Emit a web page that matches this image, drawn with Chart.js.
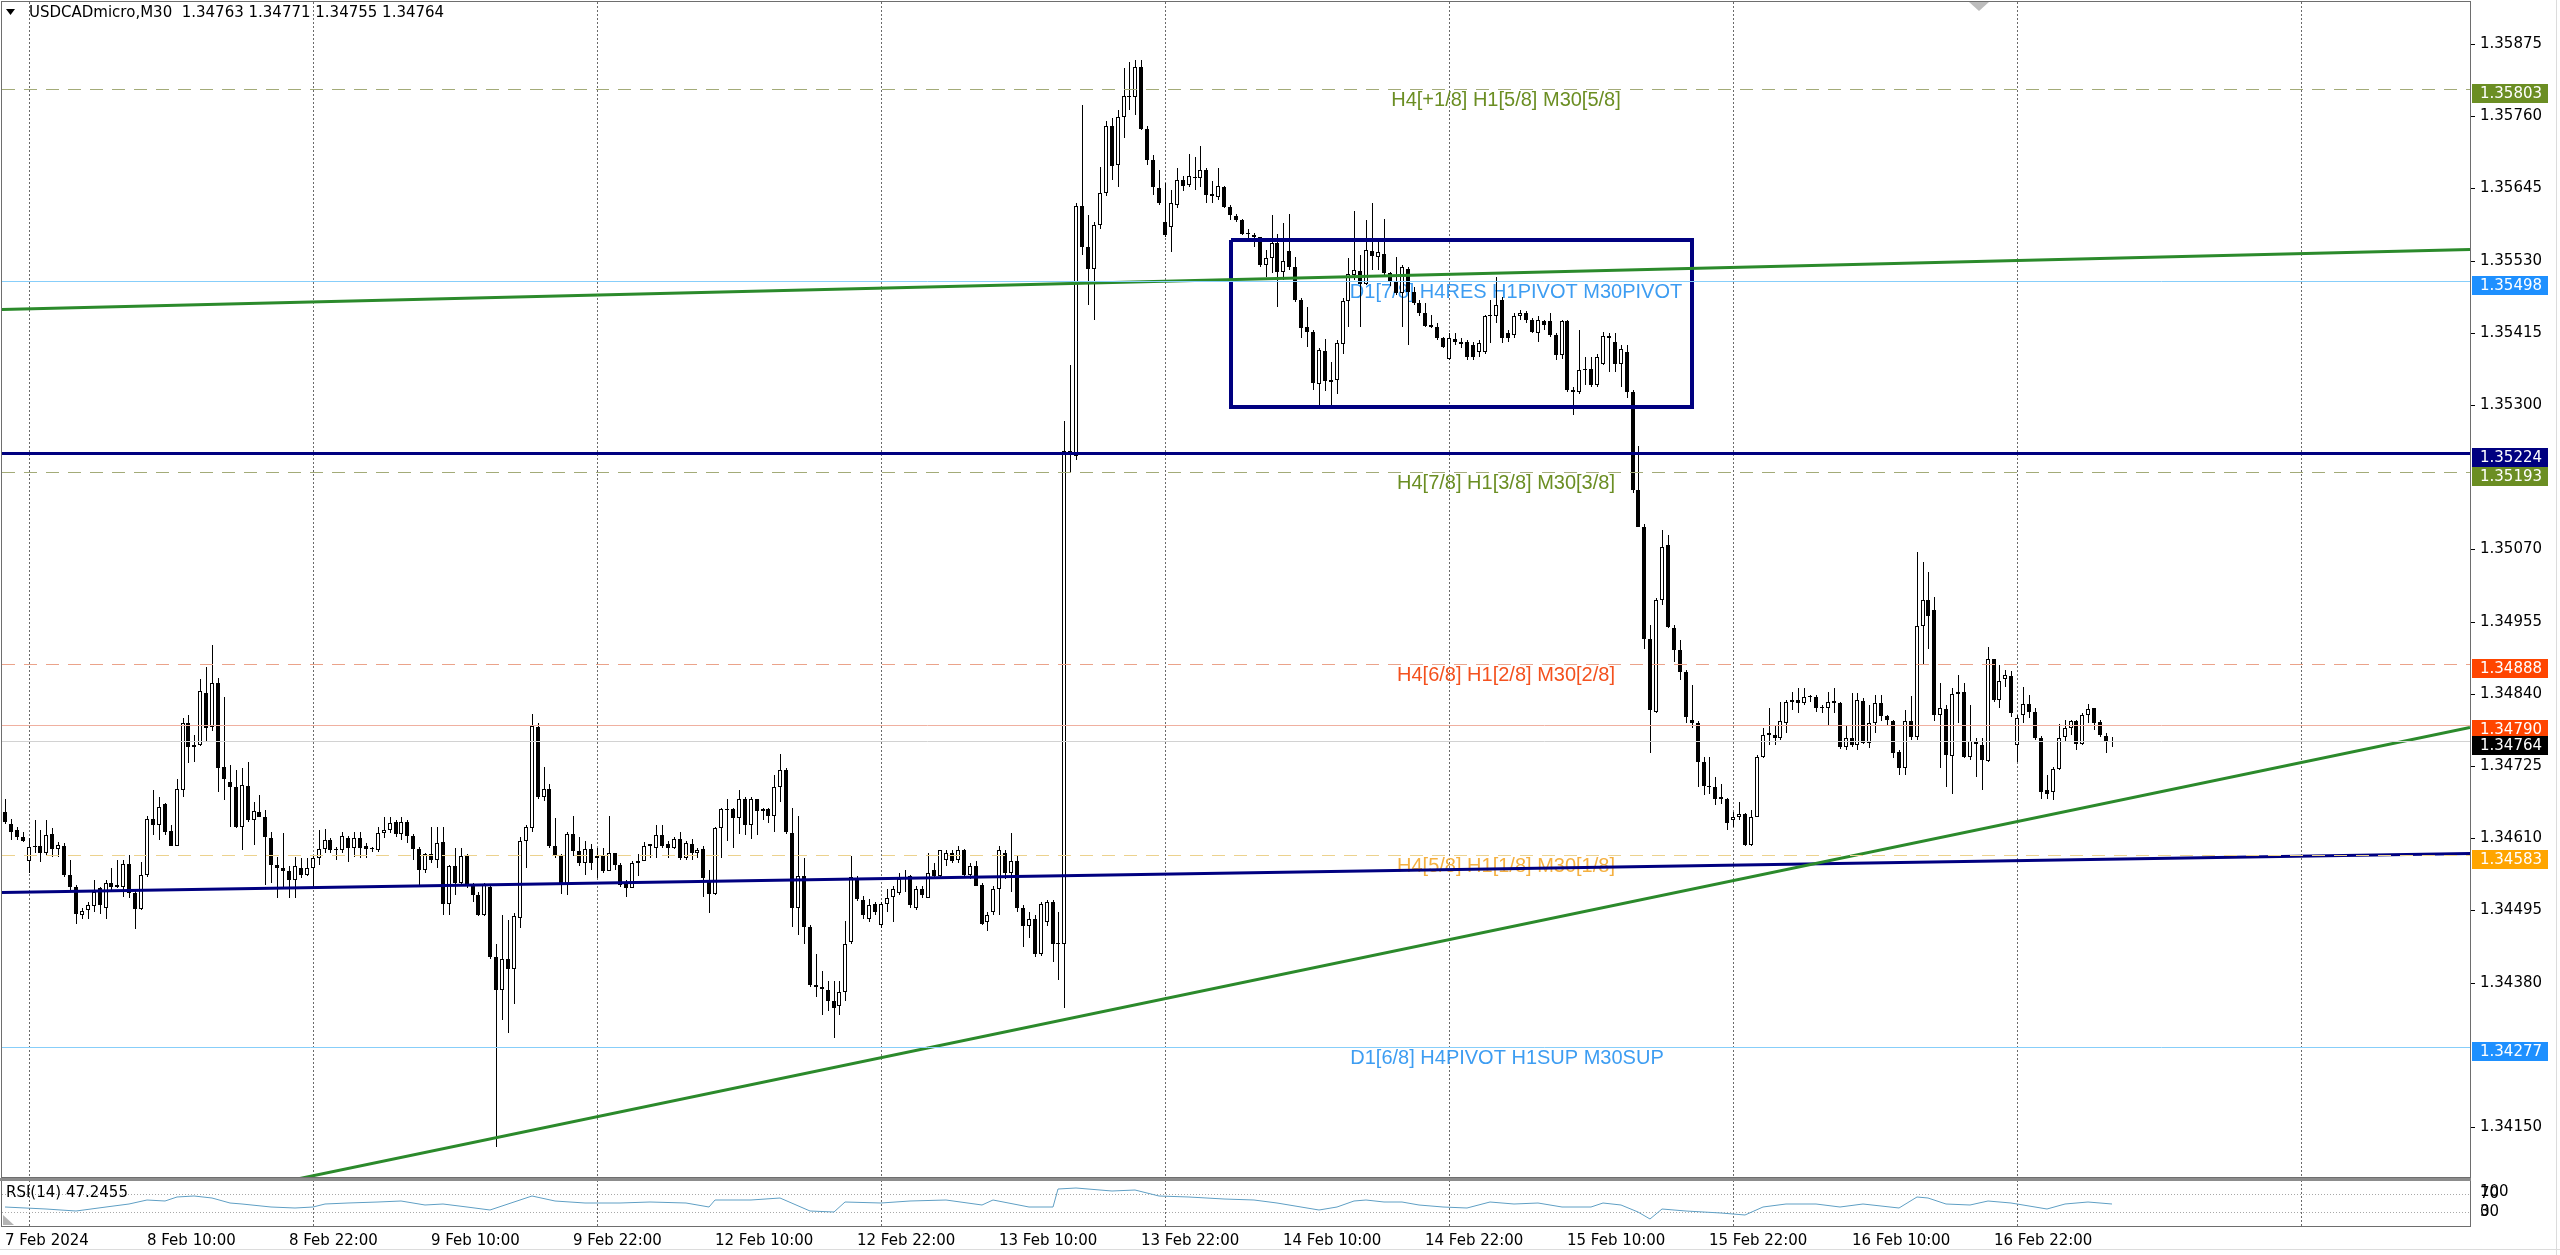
<!DOCTYPE html>
<html>
<head>
<meta charset="utf-8">
<title>USDCADmicro,M30</title>
<script src="https://cdn.jsdelivr.net/npm/chart.js@4.4.1/dist/chart.umd.min.js"></script>
<style>
  html, body { margin: 0; padding: 0; background: #fff; }
  #wrap { position: relative; width: 2560px; height: 1255px; overflow: hidden; background: #fff; }
  canvas { position: absolute; left: 0; }
  #main { top: 0; }
  #rsi { top: 1178px; }
</style>
</head>
<body>
<div id="wrap">
  <canvas id="main" width="2560" height="1178"></canvas>
  <canvas id="rsi" width="2560" height="77"></canvas>
</div>
<script>
// OHLC values are in points (0.00001) above 1.34000, one entry per M30 bar
const BASE = 1.34;
const PT = 0.00001;

const barOpen = [
  652,633,623,612,573,596,597,586,616,592,
  597,551,533,488,495,502,530,498,539,533,
  533,569,522,497,551,640,631,664,622,598,
  687,794,755,758,841,787,857,724,700,692,
  628,693,639,652,644,611,568,562,557,543,
  562,551,562,579,592,607,591,591,611,594,
  610,597,592,591,618,623,635,617,636,613,
  592,559,584,576,604,505,565,538,582,535,
  519,488,532,420,368,417,401,483,606,626,
  787,675,689,598,582,535,617,590,571,593,
  582,582,557,586,568,538,531,571,573,597,
  595,615,600,595,609,579,601,586,593,543,
  521,626,656,656,642,672,631,672,653,656,
  645,691,719,618,499,549,469,376,373,368,
  351,343,365,445,546,511,482,505,472,505,
  516,522,545,550,498,529,515,560,550,575,
  586,575,591,552,565,536,477,493,529,586,
  555,573,498,470,482,425,477,508,443,441,
  1226,1218,1617,1552,1517,1586,1638,1745,1682,1758,
  1792,1790,1838,1739,1690,1645,1592,1584,1619,1659,
  1650,1662,1662,1675,1636,1632,1648,1616,1601,1595,
  1573,1570,1567,1523,1534,1558,1512,1546,1520,1468,
  1424,1417,1334,1386,1337,1340,1397,1465,1507,1514,
  1493,1546,1535,1540,1510,1496,1479,1516,1480,1462,
  1446,1427,1425,1406,1374,1405,1401,1401,1396,1385,
  1385,1441,1441,1467,1414,1411,1441,1446,1435,1414,
  1433,1433,1411,1380,1433,1324,1321,1356,1358,1332,
  1366,1410,1401,1366,1385,1321,1165,1106,928,811,
  989,1077,944,910,874,799,793,732,693,691,
  672,672,639,644,649,599,644,740,774,774,
  769,793,827,830,826,835,835,817,817,829,
  825,756,769,758,829,761,793,826,804,797,
  748,721,796,771,948,990,974,806,815,741,
  840,843,739,764,758,733,896,830,863,868,
  758,806,824,811,769,686,684,720,771,786,
  797,760,806,817,795,772,763
];
const barHigh = [
  673,641,628,620,610,639,623,639,626,604,
  602,575,535,498,509,544,532,543,562,575,
  576,583,527,572,645,686,676,666,631,705,
  801,806,774,863,883,918,865,835,726,718,
  721,732,668,679,655,620,580,618,565,580,
  578,578,583,623,624,610,596,620,613,620,
  620,602,596,628,644,644,639,644,639,617,
  596,586,628,628,628,568,595,595,584,538,
  524,538,535,442,488,480,491,612,631,807,
  793,724,697,642,584,620,645,612,606,601,
  595,595,645,587,571,543,573,584,604,601,
  631,631,606,612,620,606,609,595,598,560,
  628,658,672,658,686,675,675,673,658,658,
  711,744,722,658,645,579,472,425,398,382,
  382,382,478,582,549,518,513,508,508,529,
  534,555,560,552,534,534,586,570,591,591,
  591,597,593,570,573,539,493,534,597,591,
  619,581,503,493,487,508,512,512,492,1275,
  1363,1622,1778,1602,1591,1679,1752,1757,1770,1836,
  1847,1850,1850,1744,1698,1674,1653,1642,1677,1664,
  1700,1695,1712,1677,1656,1677,1649,1619,1605,1597,
  1580,1574,1568,1547,1602,1573,1590,1605,1536,1471,
  1456,1419,1390,1405,1369,1403,1470,1534,1609,1539,
  1595,1622,1563,1597,1512,1536,1523,1520,1488,1467,
  1462,1443,1430,1409,1414,1414,1406,1403,1401,1403,
  1443,1467,1504,1472,1419,1446,1451,1449,1438,1441,
  1435,1446,1414,1435,1435,1329,1419,1377,1377,1382,
  1417,1414,1415,1396,1396,1324,1234,1111,950,992,
  1101,1093,950,926,878,854,796,740,740,708,
  697,674,652,668,650,655,742,785,817,788,
  827,830,843,849,849,838,838,822,843,849,
  827,790,841,841,833,822,838,838,806,798,
  750,814,836,1066,1050,1034,994,857,822,849,
  870,857,822,769,769,915,896,886,878,877,
  806,851,838,817,772,711,724,792,798,799,
  798,809,824,818,798,777,771
];
const barLow = [
  633,607,607,604,554,586,572,583,580,580,
  548,525,474,482,482,493,490,482,527,530,
  517,514,466,496,548,615,607,615,597,597,
  676,730,732,757,764,780,684,671,628,626,
  591,636,599,644,535,538,514,530,514,514,
  546,549,533,567,586,586,575,586,572,580,
  578,578,588,588,610,618,612,607,603,575,
  535,554,570,562,488,488,519,535,530,508,
  486,486,417,118,321,299,346,467,563,620,
  672,670,595,579,521,519,582,565,552,560,
  546,554,557,560,532,516,530,549,573,579,
  579,595,579,593,576,576,576,579,516,491,
  519,579,606,595,617,615,609,615,639,634,
  620,667,617,469,456,442,373,357,329,335,
  291,329,351,442,510,482,477,487,467,493,
  477,519,524,498,496,514,514,545,545,565,
  570,570,550,545,534,472,462,487,487,545,
  524,493,436,451,420,422,470,412,384,339,
  1192,1213,1539,1459,1436,1581,1633,1659,1648,1725,
  1770,1762,1738,1682,1634,1618,1567,1544,1613,1641,
  1648,1642,1648,1622,1621,1626,1613,1595,1592,1571,
  1560,1552,1520,1504,1510,1456,1499,1515,1464,1406,
  1393,1324,1300,1323,1300,1318,1382,1425,1499,1425,
  1491,1515,1515,1504,1489,1475,1425,1395,1459,1441,
  1425,1422,1403,1390,1372,1396,1390,1372,1372,1377,
  1382,1398,1430,1398,1401,1406,1435,1430,1414,1401,
  1419,1409,1372,1374,1321,1284,1318,1332,1329,1329,
  1364,1353,1353,1329,1311,1160,1106,911,745,809,
  981,944,891,862,793,785,692,679,681,663,
  665,623,628,639,597,597,643,737,758,758,
  766,777,814,809,822,827,811,809,788,809,
  752,750,756,750,760,753,777,796,788,737,
  711,711,766,766,888,912,796,721,692,681,
  793,737,734,708,687,732,827,817,851,803,
  732,793,801,766,673,673,671,719,764,774,
  751,758,793,782,771,745,755
];
const barClose = [
  636,620,612,606,596,597,586,615,592,599,
  551,533,489,494,503,525,503,538,533,536,
  569,522,497,551,641,631,660,620,598,688,
  793,755,758,845,786,857,721,704,692,628,
  694,639,654,644,612,567,563,557,543,565,
  552,563,579,592,607,591,591,613,594,610,
  594,592,592,618,623,634,617,636,613,592,
  559,584,576,602,505,565,538,582,535,519,
  488,535,420,368,417,401,486,606,628,788,
  675,689,598,582,535,617,590,571,593,571,
  579,557,587,568,535,530,571,573,598,600,
  615,598,594,609,579,602,586,591,546,521,
  626,656,655,642,672,631,672,653,656,645,
  691,719,620,498,549,469,376,373,369,351,
  340,365,442,548,513,488,503,493,505,515,
  529,545,548,503,529,519,555,550,591,586,
  573,591,552,565,534,474,487,529,591,555,
  573,498,470,482,425,505,508,441,441,1226,
  1222,1617,1552,1517,1586,1638,1745,1681,1759,1792,
  1790,1838,1739,1690,1648,1622,1571,1622,1659,1649,
  1665,1661,1675,1634,1633,1649,1616,1603,1595,1573,
  1572,1567,1523,1534,1558,1512,1530,1520,1468,1422,
  1417,1335,1388,1339,1340,1398,1465,1509,1515,1493,
  1547,1537,1544,1510,1498,1479,1519,1480,1462,1446,
  1426,1425,1406,1393,1406,1401,1397,1377,1377,1398,
  1441,1443,1459,1406,1406,1441,1446,1435,1417,1435,
  1427,1411,1380,1433,1324,1320,1356,1358,1332,1377,
  1410,1406,1366,1389,1321,1165,1106,928,814,989,
  1074,947,910,874,803,793,732,693,691,672,
  675,634,644,649,599,644,740,774,777,769,
  796,827,830,826,835,835,817,817,827,825,
  756,769,758,830,761,793,826,804,798,746,
  721,797,771,948,989,964,806,817,742,840,
  843,739,765,760,734,896,830,861,870,810,
  801,823,811,769,684,680,720,770,786,797,
  760,806,815,794,774,764,764
];

// time axis
const timeLabels = ['7 Feb 2024', '8 Feb 10:00', '8 Feb 22:00', '9 Feb 10:00', '9 Feb 22:00',
  '12 Feb 10:00', '12 Feb 22:00', '13 Feb 10:00', '13 Feb 22:00', '14 Feb 10:00',
  '14 Feb 22:00', '15 Feb 10:00', '15 Feb 22:00', '16 Feb 10:00', '16 Feb 22:00'];
const labelBars = [0, 24, 48, 72, 96, 120, 144, 168, 192, 216, 240, 264, 288, 312, 336];
const dayBars = [4, 52, 100, 148, 196, 244, 292, 340, 388];

// price axis
const priceTicks = [1.35875, 1.35760, 1.35645, 1.35530, 1.35415, 1.35300, 1.35070,
  1.34955, 1.34840, 1.34725, 1.34610, 1.34495, 1.34380, 1.34150];

// horizontal levels and their captions
const levelPrices = [1.35803, 1.35498, 1.35224, 1.35193, 1.34888, 1.34790, 1.34764, 1.34583, 1.34277];
const levelTexts = ['H4[+1/8] H1[5/8] M30[5/8]', 'D1[7/8] H4RES H1PIVOT M30PIVOT', '',
  'H4[7/8] H1[3/8] M30[3/8]', 'H4[6/8] H1[2/8] M30[2/8]', '', '',
  'H4[5/8] H1[1/8] M30[1/8]', 'D1[6/8] H4PIVOT H1SUP M30SUP'];

// drawn objects: [bar, price] end points
const trendUpper = [[-0.5, 1.35453], [416.5, 1.35549]];
const trendLower = [[40, 1.34050], [416.5, 1.34787]];
const trendNavy = [[-0.5, 1.34525], [416.5, 1.34587]];
const boxBars = [207.1, 285.1];
const boxPrices = [1.35297, 1.35563];

// RSI(14), read at a subset of bars
const rsiBars = [0, 7, 12, 17, 21, 24, 27, 29, 32, 35, 38, 40, 45, 49, 52, 54, 58, 63, 67, 71,
  74, 78, 82, 85, 89, 93, 98, 104, 109, 115, 119, 120, 126, 131, 136, 140, 142, 148, 153, 159,
  165, 167, 173, 177, 178, 181, 187, 191, 195, 200, 206, 211, 215, 219, 222, 225, 228, 230, 233, 236,
  239, 243, 247, 251, 255, 259, 263, 268, 270, 273, 276, 278, 280, 284, 290, 294, 297, 301, 306, 310,
  314, 320, 323, 325, 328, 332, 335, 339, 345, 348, 352, 356];
const rsiValues = [41, 37, 32, 41, 47, 57, 54, 64, 66, 61, 50, 48, 42, 39, 42, 48, 50, 52, 54, 45,
  48, 41, 35, 48, 66, 54, 50, 50, 53, 50, 41, 57, 57, 61, 32, 31, 52, 50, 54, 57,
  45, 56, 42, 42, 81, 83, 77, 79, 66, 64, 59, 56, 50, 41, 35, 41, 54, 57, 52, 52,
  45, 41, 39, 52, 48, 50, 41, 42, 50, 45, 30, 15, 37, 32, 28, 25, 41, 47, 48, 41,
  48, 39, 64, 61, 47, 45, 54, 50, 37, 48, 52, 47];
const rsiCaption = 'RSI(14) 47.2455';
const rsiLevels = [70, 30];

const chartTitle = 'USDCADmicro,M30  1.34763 1.34771 1.34755 1.34764';

// ---- look ----
const X_MIN = -0.5, X_MAX = 416.5;
const Y_MIN = 1.340703, Y_MAX = 1.359419;
const AXIS_W = 90;
const FONT = '"DejaVu Sans", Verdana, sans-serif';
const OLIVE = '#6b8e23', DODGER = '#1e90ff', NAVY = '#000080', ORED = '#ff4500', ORANGE = '#ffa500';
const levelStyle = [
  { line: '#a3ab78', width: 1, dash: [13, 9], tag: OLIVE, text: OLIVE },
  { line: '#87cefa', width: 1, dash: [], tag: DODGER, text: '#3d9df2' },
  { line: NAVY, width: 3, dash: [], tag: NAVY },
  { line: '#a3ab78', width: 1, dash: [13, 9], tag: OLIVE, text: OLIVE },
  { line: '#eba38a', width: 1, dash: [13, 9], tag: ORED, text: '#f4511e' },
  { line: '#f0b0a0', width: 1, dash: [], tag: ORED },
  { line: '#d2d2d2', width: 1, dash: [], tag: '#000' },
  { line: '#ecd28e', width: 1, dash: [13, 9], tag: ORANGE, text: '#f5b040' },
  { line: '#87cefa', width: 1, dash: [], tag: DODGER, text: '#3d9df2' }
];
const levelTextBar = [253.7, 255.3, null, 253.7, 253.7, null, null, 253.7, 253.8];

Chart.defaults.font.family = FONT;

const toPrice = v => +(BASE + v * PT).toFixed(5);
const idx = barOpen.map((o, i) => i);
const wicks = idx.map(i => ({ x: i, y: [toPrice(barLow[i]), toPrice(barHigh[i])] }));
const bulls = idx.filter(i => barClose[i] >= barOpen[i])
  .map(i => ({ x: i, y: [toPrice(barOpen[i]), toPrice(barClose[i])] }));
const bears = idx.filter(i => barClose[i] < barOpen[i])
  .map(i => ({ x: i, y: [toPrice(barOpen[i]), toPrice(barClose[i])] }));

// nudge: half-pixel shift so odd-width strokes land on whole pixels
const lineSet = (pts, color, width, dash) => ({
  type: 'line', data: pts.map(p => ({ x: p[0], y: p[1] })),
  borderColor: color, borderWidth: width, borderDash: dash || [],
  pointRadius: 0, fill: false, tension: 0, order: 0, borderCapStyle: 'butt',
  nudge: width % 2 ? [0, 0.5] : null
});

const levelSets = levelPrices.map((p, i) =>
  lineSet([[X_MIN, p], [X_MAX, p]], levelStyle[i].line, levelStyle[i].width, levelStyle[i].dash));

const boxSet = lineSet([
  [boxBars[0], boxPrices[1]], [boxBars[1], boxPrices[1]], [boxBars[1], boxPrices[0]],
  [boxBars[0], boxPrices[0]], [boxBars[0], boxPrices[1]]
], NAVY, 4);
boxSet.borderJoinStyle = 'miter';

function noPad(s) {
  s.paddingTop = 0; s.paddingBottom = 0; s.paddingLeft = 0; s.paddingRight = 0;
}

function drawDayLines(chart) {
  const { ctx, chartArea: a, scales: { x } } = chart;
  ctx.save();
  ctx.strokeStyle = '#6a6a6a';
  ctx.lineWidth = 1;
  ctx.setLineDash([2, 2]);
  dayBars.forEach(b => {
    const px = Math.round(x.getPixelForValue(b)) + 0.5;
    ctx.beginPath();
    ctx.moveTo(px, a.top);
    ctx.lineTo(px, a.bottom);
    ctx.stroke();
  });
  ctx.restore();
}

const nudger = {
  id: 'nudger',
  beforeDatasetDraw(chart, args) {
    const n = chart.data.datasets[args.index].nudge;
    chart.ctx.save();
    if (n) chart.ctx.translate(n[0], n[1]);
  },
  afterDatasetDraw(chart) {
    chart.ctx.restore();
  }
};

const mainDecor = {
  id: 'mainDecor',
  beforeDatasetsDraw(chart) {
    drawDayLines(chart);
    const { ctx, scales: { x, y } } = chart;
    ctx.save();
    ctx.font = '20px "Liberation Sans", Arial, sans-serif';
    ctx.textAlign = 'center';
    ctx.textBaseline = 'middle';
    levelTexts.forEach((t, i) => {
      if (!t) return;
      ctx.fillStyle = levelStyle[i].text;
      ctx.fillText(t, x.getPixelForValue(levelTextBar[i]), y.getPixelForValue(levelPrices[i]) + 11);
    });
    ctx.restore();
  },
  afterDraw(chart) {
    const { ctx, chartArea: a, scales: { y } } = chart;
    ctx.save();
    ctx.strokeStyle = '#6e6e6e';
    ctx.lineWidth = 1;
    ctx.strokeRect(a.left - 0.5, a.top - 0.5, a.right - a.left + 1, a.bottom - a.top + 1);

    // coloured price tags on the axis
    ctx.font = '15px ' + FONT;
    ctx.textAlign = 'left';
    ctx.textBaseline = 'middle';
    levelPrices.forEach((p, i) => {
      const py = y.getPixelForValue(p);
      ctx.fillStyle = levelStyle[i].tag;
      ctx.fillRect(a.right + 2, Math.round(py) - 5, 76, 19);
      ctx.fillStyle = '#fff';
      ctx.fillText(p.toFixed(5), a.right + 10, Math.round(py) + 5);
    });

    // title
    ctx.fillStyle = '#000';
    ctx.beginPath();
    ctx.moveTo(6, 9); ctx.lineTo(15, 9); ctx.lineTo(10.5, 15); ctx.closePath();
    ctx.fill();
    ctx.fillText(chartTitle, 29, 13);

    // chart shift marker
    ctx.fillStyle = '#bdbdbd';
    ctx.beginPath();
    ctx.moveTo(1969, 2); ctx.lineTo(1989, 2); ctx.lineTo(1979, 11); ctx.closePath();
    ctx.fill();

    ctx.fillStyle = '#dcdcdc';
    ctx.fillRect(2556, 0, 1, chart.height);
    ctx.restore();
  }
};

new Chart(document.getElementById('main'), {
  type: 'bar',
  data: {
    datasets: [
      ...levelSets,
      lineSet(trendUpper, '#2b8a2b', 3),
      lineSet(trendLower, '#2b8a2b', 3),
      lineSet(trendNavy, NAVY, 3),
      boxSet,
      { type: 'bar', data: bulls, backgroundColor: '#fff', borderColor: '#000', borderWidth: 1,
        borderSkipped: false, barThickness: 4, minBarLength: 1, grouped: false, inflateAmount: 0, order: 1 },
      { type: 'bar', data: bears, backgroundColor: '#000', borderWidth: 0,
        barThickness: 4, minBarLength: 1, grouped: false, inflateAmount: 0, order: 1 },
      { type: 'bar', data: wicks, backgroundColor: '#000', borderWidth: 0,
        barThickness: 1, grouped: false, inflateAmount: 0, order: 2, nudge: [0.5, 0] }
    ]
  },
  options: {
    responsive: false, animation: false, devicePixelRatio: 1, events: [],
    layout: { padding: { left: 2, top: 2, right: 0, bottom: 1 } },
    plugins: { legend: { display: false }, tooltip: { enabled: false } },
    scales: {
      x: { type: 'linear', min: X_MIN, max: X_MAX, display: false, offset: false,
           alignToPixels: true, grid: { offset: false } },
      y: {
        position: 'right', min: Y_MIN, max: Y_MAX, alignToPixels: true,
        afterBuildTicks: s => { s.ticks = priceTicks.map(v => ({ value: v })); },
        afterFit: s => { s.width = AXIS_W; noPad(s); },
        ticks: { callback: v => v.toFixed(5), color: '#000', font: { size: 15 }, padding: 5 },
        grid: { drawOnChartArea: false, drawTicks: true, tickLength: 5, color: '#000' },
        border: { display: true, color: '#6e6e6e' }
      }
    }
  },
  plugins: [nudger, mainDecor]
});

const rsiDecor = {
  id: 'rsiDecor',
  beforeDatasetsDraw(chart) { drawDayLines(chart); },
  afterDraw(chart) {
    const { ctx, chartArea: a, scales: { y } } = chart;
    ctx.save();
    ctx.strokeStyle = '#6e6e6e';
    ctx.lineWidth = 1;
    ctx.strokeRect(a.left - 0.5, a.top - 0.5, a.right - a.left + 1, a.bottom - a.top + 1);
    ctx.fillStyle = '#8c8c8c';
    ctx.fillRect(0, 0, a.right + 1, 3);

    ctx.fillStyle = '#000';
    ctx.font = '15px ' + FONT;
    ctx.textAlign = 'left';
    ctx.textBaseline = 'middle';
    ctx.fillText(rsiCaption, 6, 15);
    // MT4 squeezes the 100 and 0 labels onto the 70 / 30 rows
    ctx.fillText('100', a.right + 10, y.getPixelForValue(70) - 2);
    ctx.fillText('0', a.right + 10, y.getPixelForValue(30));

    ctx.fillStyle = '#b4b4b4';
    ctx.beginPath();
    ctx.moveTo(3, 37); ctx.lineTo(3, 47); ctx.lineTo(14, 47); ctx.closePath();
    ctx.fill();

    ctx.fillStyle = '#dcdcdc';
    ctx.fillRect(0, 71, chart.width, 1);
    ctx.fillRect(2556, 0, 1, chart.height);
    ctx.restore();
  }
};

new Chart(document.getElementById('rsi'), {
  type: 'line',
  data: {
    datasets: [
      { data: rsiBars.map((b, i) => ({ x: b, y: rsiValues[i] })), borderColor: '#5f9fc4',
        borderWidth: 1, pointRadius: 0, tension: 0, fill: false },
      ...rsiLevels.map(v => ({ data: [{ x: X_MIN, y: v }, { x: X_MAX, y: v }], borderColor: '#a8a8a8',
        borderWidth: 1, borderDash: [1, 2], pointRadius: 0, fill: false, nudge: [0, 0.5] }))
    ]
  },
  options: {
    responsive: false, animation: false, devicePixelRatio: 1, events: [],
    layout: { padding: { left: 2, top: 2, right: 0, bottom: 0 } },
    plugins: { legend: { display: false }, tooltip: { enabled: false } },
    scales: {
      x: {
        type: 'linear', min: X_MIN, max: X_MAX, offset: false, alignToPixels: true,
        afterBuildTicks: s => { s.ticks = labelBars.map(v => ({ value: v })); },
        afterFit: s => { s.height = 29; noPad(s); },
        ticks: { callback: v => timeLabels[labelBars.indexOf(v)], align: 'start', maxRotation: 0,
                 autoSkip: false, color: '#000', font: { size: 15 }, padding: 6 },
        grid: { display: false, drawTicks: false },
        border: { display: true, color: '#6e6e6e' }
      },
      y: {
        position: 'right', min: 0, max: 100, alignToPixels: true,
        afterBuildTicks: s => { s.ticks = rsiLevels.map(v => ({ value: v })); },
        afterFit: s => { s.width = AXIS_W; noPad(s); },
        ticks: { color: '#000', font: { size: 15 }, padding: 10 },
        grid: { drawOnChartArea: false, drawTicks: false },
        border: { display: true, color: '#6e6e6e' }
      }
    }
  },
  plugins: [nudger, rsiDecor]
});
</script>
</body>
</html>
